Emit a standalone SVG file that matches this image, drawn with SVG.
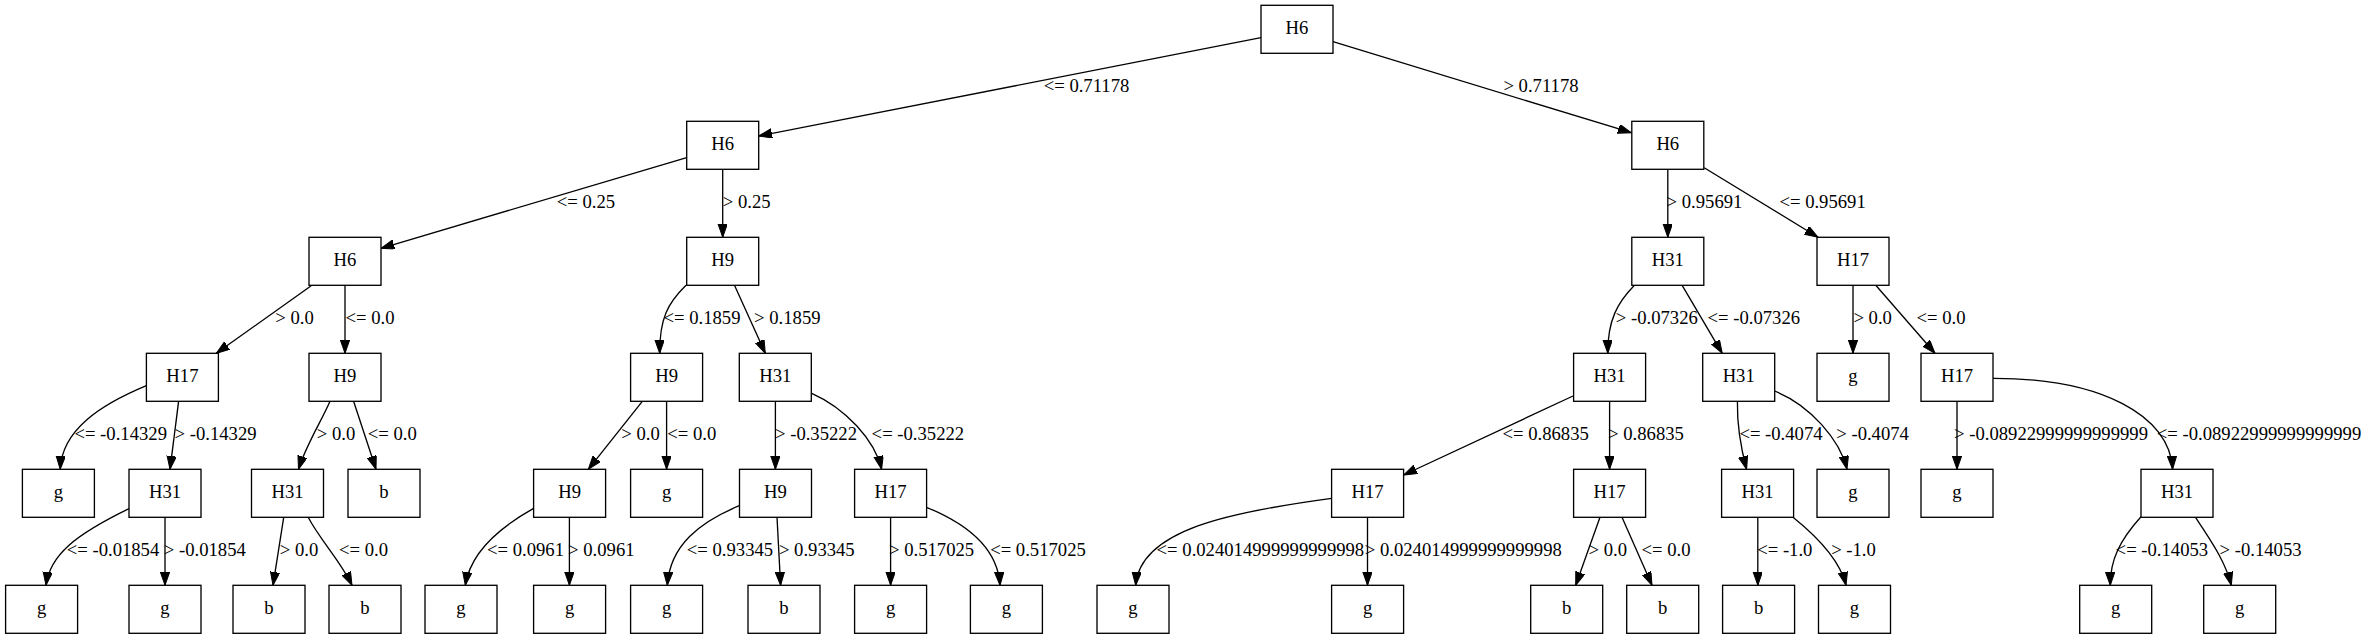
<svg xmlns="http://www.w3.org/2000/svg" width="2368" height="639" viewBox="0 0 2368 639">
<style>
rect{fill:#fff;stroke:#000;stroke-width:1.33}
text{font-family:"Liberation Serif","Times New Roman",serif;font-size:18.67px;fill:#000;text-anchor:middle}
#edges path{fill:none;stroke:#000;stroke-width:1.33;marker-end:url(#ah)}
</style>
<defs>
<marker id="ah" markerUnits="userSpaceOnUse" markerWidth="14" markerHeight="10" refX="13.3" refY="4.67" orient="auto"><path d="M0,0 L13.3,4.67 L0,9.33 Z" fill="#000" stroke="#000" stroke-width="1"/></marker>
</defs>
<rect x="0" y="0" width="2368" height="639" style="stroke:none"/>
<g id="edges">
<path d="M1261,37.7 L758.7,136"/>
<path d="M1333,41.7 L1631.3,132.7"/>
<path d="M686.7,157.7 L381,248.3"/>
<path d="M722.7,169.3 L722.7,237.3"/>
<path d="M1667.8,169.3 L1667.8,237.3"/>
<path d="M1704.2,167.7 L1818,237.3"/>
<path d="M311.2,285.7 L216.3,353.3"/>
<path d="M345,285.3 L345,353.3"/>
<path d="M686,285.3 C668,303 659.5,318 659.7,353.3"/>
<path d="M734.7,285.7 L765.3,353.3"/>
<path d="M1634,285.7 C1618,302 1607.5,320 1607.8,353.3"/>
<path d="M1682.3,285.7 L1722.2,353.3"/>
<path d="M1853,285.3 L1853,353.3"/>
<path d="M1876.2,285.7 L1935,353.3"/>
<path d="M146.4,385.7 C100,405 62,430 60.2,469.3"/>
<path d="M178.6,401.3 L170,469.3"/>
<path d="M330,401.3 C322,420 306,445 298.5,469.3"/>
<path d="M353.6,401.3 L376,469.3"/>
<path d="M642.3,401.3 L588.3,469.3"/>
<path d="M666.6,401.3 L666.6,469.3"/>
<path d="M775.4,401.3 L775.4,469.3"/>
<path d="M811.7,393.3 C845,408 875,440 881.6,469.3"/>
<path d="M1573,396 L1403.6,475"/>
<path d="M1609.6,401.3 L1609.6,469.3"/>
<path d="M1737.4,401.3 C1737,425 1740,445 1746.6,469.3"/>
<path d="M1774.6,391 C1810,405 1840,440 1847,469.3"/>
<path d="M1957,401.3 L1957,469.3"/>
<path d="M1993,378.3 C2100,378 2170,415 2172.6,469.3"/>
<path d="M129,508.7 C75,535 50,555 46,585.3"/>
<path d="M165,517.3 L165,585.3"/>
<path d="M283.7,517.3 L273,585.3"/>
<path d="M308.2,517.3 C320,540 340,560 352,585.3"/>
<path d="M533.2,508.7 C495,530 470,555 465.3,585.3"/>
<path d="M569.4,517.3 L569.4,585.3"/>
<path d="M739.3,505.7 C700,522 670,545 667.3,585.3"/>
<path d="M777,517.3 L780.6,585.3"/>
<path d="M890.6,517.3 L890.6,585.3"/>
<path d="M926.5,507.3 C970,525 998,550 1000,585.3"/>
<path d="M1331.6,498.3 C1230,512 1140,530 1135.7,585.3"/>
<path d="M1367.5,517.3 L1367.5,585.3"/>
<path d="M1600,517.3 L1575.7,585.3"/>
<path d="M1622,517.3 L1652,585.3"/>
<path d="M1757.8,517.3 L1757.8,585.3"/>
<path d="M1793,517.3 C1815,535 1840,560 1846,585.3"/>
<path d="M2141,516.7 C2120,540 2110,560 2110.3,585.3"/>
<path d="M2195.6,517.3 C2210,540 2225,560 2231.3,585.3"/>
<text x="1086.5" y="92.3">&lt;= 0.71178</text>
<text x="1541" y="92.3">&gt; 0.71178</text>
<text x="586" y="208.3">&lt;= 0.25</text>
<text x="746.7" y="208.3">&gt; 0.25</text>
<text x="1704.5" y="208.3">&gt; 0.95691</text>
<text x="1822.6" y="208.3">&lt;= 0.95691</text>
<text x="294.6" y="324.3">&gt; 0.0</text>
<text x="370" y="324.3">&lt;= 0.0</text>
<text x="702" y="324.3">&lt;= 0.1859</text>
<text x="787.3" y="324.3">&gt; 0.1859</text>
<text x="1656.8" y="324.3">&gt; -0.07326</text>
<text x="1753.8" y="324.3">&lt;= -0.07326</text>
<text x="1872.7" y="324.3">&gt; 0.0</text>
<text x="1941" y="324.3">&lt;= 0.0</text>
<text x="120.7" y="440.3">&lt;= -0.14329</text>
<text x="215.6" y="440.3">&gt; -0.14329</text>
<text x="336" y="440.3">&gt; 0.0</text>
<text x="392.3" y="440.3">&lt;= 0.0</text>
<text x="640.6" y="440.3">&gt; 0.0</text>
<text x="691.8" y="440.3">&lt;= 0.0</text>
<text x="816" y="440.3">&gt; -0.35222</text>
<text x="917.9" y="440.3">&lt;= -0.35222</text>
<text x="1545.7" y="440.3">&lt;= 0.86835</text>
<text x="1646" y="440.3">&gt; 0.86835</text>
<text x="1781" y="440.3">&lt;= -0.4074</text>
<text x="1872.6" y="440.3">&gt; -0.4074</text>
<text x="2051" y="440.3">&gt; -0.08922999999999999</text>
<text x="2259" y="440.3">&lt;= -0.08922999999999999</text>
<text x="113" y="556.3">&lt;= -0.01854</text>
<text x="204.8" y="556.3">&gt; -0.01854</text>
<text x="299" y="556.3">&gt; 0.0</text>
<text x="363.5" y="556.3">&lt;= 0.0</text>
<text x="525.5" y="556.3">&lt;= 0.0961</text>
<text x="601.3" y="556.3">&gt; 0.0961</text>
<text x="730" y="556.3">&lt;= 0.93345</text>
<text x="816.8" y="556.3">&gt; 0.93345</text>
<text x="931.6" y="556.3">&gt; 0.517025</text>
<text x="1038" y="556.3">&lt;= 0.517025</text>
<text x="1260.4" y="556.3">&lt;= 0.024014999999999998</text>
<text x="1463.3" y="556.3">&gt; 0.024014999999999998</text>
<text x="1607.8" y="556.3">&gt; 0.0</text>
<text x="1666" y="556.3">&lt;= 0.0</text>
<text x="1784.8" y="556.3">&lt;= -1.0</text>
<text x="1853.5" y="556.3">&gt; -1.0</text>
<text x="2161.9" y="556.3">&lt;= -0.14053</text>
<text x="2260.6" y="556.3">&gt; -0.14053</text>
</g>
<g id="n0"><rect x="1261" y="5.3" width="72" height="48"/><text x="1297" y="34.3">H6</text></g>
<g id="n1"><rect x="686.7" y="121.3" width="72" height="48"/><text x="722.7" y="150.3">H6</text></g>
<g id="n2"><rect x="1631.8" y="121.3" width="72" height="48"/><text x="1667.8" y="150.3">H6</text></g>
<g id="n3"><rect x="309" y="237.3" width="72" height="48"/><text x="345" y="266.3">H6</text></g>
<g id="n4"><rect x="686.7" y="237.3" width="72" height="48"/><text x="722.7" y="266.3">H9</text></g>
<g id="n5"><rect x="1631.8" y="237.3" width="72" height="48"/><text x="1667.8" y="266.3">H31</text></g>
<g id="n6"><rect x="1817" y="237.3" width="72" height="48"/><text x="1853" y="266.3">H17</text></g>
<g id="n7"><rect x="146.4" y="353.3" width="72" height="48"/><text x="182.4" y="382.3">H17</text></g>
<g id="n8"><rect x="309" y="353.3" width="72" height="48"/><text x="345" y="382.3">H9</text></g>
<g id="n9"><rect x="630.6" y="353.3" width="72" height="48"/><text x="666.6" y="382.3">H9</text></g>
<g id="n10"><rect x="739.3" y="353.3" width="72" height="48"/><text x="775.3" y="382.3">H31</text></g>
<g id="n11"><rect x="1573.6" y="353.3" width="72" height="48"/><text x="1609.6" y="382.3">H31</text></g>
<g id="n12"><rect x="1702.7" y="353.3" width="72" height="48"/><text x="1738.7" y="382.3">H31</text></g>
<g id="n13"><rect x="1817" y="353.3" width="72" height="48"/><text x="1853" y="382.3">g</text></g>
<g id="n14"><rect x="1921" y="353.3" width="72" height="48"/><text x="1957" y="382.3">H17</text></g>
<g id="n15"><rect x="22.4" y="469.3" width="72" height="48"/><text x="58.4" y="498.3">g</text></g>
<g id="n16"><rect x="129" y="469.3" width="72" height="48"/><text x="165" y="498.3">H31</text></g>
<g id="n17"><rect x="251.5" y="469.3" width="72" height="48"/><text x="287.5" y="498.3">H31</text></g>
<g id="n18"><rect x="348" y="469.3" width="72" height="48"/><text x="384" y="498.3">b</text></g>
<g id="n19"><rect x="533.6" y="469.3" width="72" height="48"/><text x="569.6" y="498.3">H9</text></g>
<g id="n20"><rect x="630.6" y="469.3" width="72" height="48"/><text x="666.6" y="498.3">g</text></g>
<g id="n21"><rect x="739.5" y="469.3" width="72" height="48"/><text x="775.5" y="498.3">H9</text></g>
<g id="n22"><rect x="854.6" y="469.3" width="72" height="48"/><text x="890.6" y="498.3">H17</text></g>
<g id="n23"><rect x="1331.6" y="469.3" width="72" height="48"/><text x="1367.6" y="498.3">H17</text></g>
<g id="n24"><rect x="1573.6" y="469.3" width="72" height="48"/><text x="1609.6" y="498.3">H17</text></g>
<g id="n25"><rect x="1721.6" y="469.3" width="72" height="48"/><text x="1757.6" y="498.3">H31</text></g>
<g id="n26"><rect x="1817" y="469.3" width="72" height="48"/><text x="1853" y="498.3">g</text></g>
<g id="n27"><rect x="1921" y="469.3" width="72" height="48"/><text x="1957" y="498.3">g</text></g>
<g id="n28"><rect x="2141" y="469.3" width="72" height="48"/><text x="2177" y="498.3">H31</text></g>
<g id="n29"><rect x="5.6" y="585.3" width="72" height="48"/><text x="41.6" y="614.3">g</text></g>
<g id="n30"><rect x="129" y="585.3" width="72" height="48"/><text x="165" y="614.3">g</text></g>
<g id="n31"><rect x="233" y="585.3" width="72" height="48"/><text x="269" y="614.3">b</text></g>
<g id="n32"><rect x="329" y="585.3" width="72" height="48"/><text x="365" y="614.3">b</text></g>
<g id="n33"><rect x="425" y="585.3" width="72" height="48"/><text x="461" y="614.3">g</text></g>
<g id="n34"><rect x="533.6" y="585.3" width="72" height="48"/><text x="569.6" y="614.3">g</text></g>
<g id="n35"><rect x="630.6" y="585.3" width="72" height="48"/><text x="666.6" y="614.3">g</text></g>
<g id="n36"><rect x="748" y="585.3" width="72" height="48"/><text x="784" y="614.3">b</text></g>
<g id="n37"><rect x="854.6" y="585.3" width="72" height="48"/><text x="890.6" y="614.3">g</text></g>
<g id="n38"><rect x="970.4" y="585.3" width="72" height="48"/><text x="1006.4" y="614.3">g</text></g>
<g id="n39"><rect x="1097" y="585.3" width="72" height="48"/><text x="1133" y="614.3">g</text></g>
<g id="n40"><rect x="1331.6" y="585.3" width="72" height="48"/><text x="1367.6" y="614.3">g</text></g>
<g id="n41"><rect x="1530.7" y="585.3" width="72" height="48"/><text x="1566.7" y="614.3">b</text></g>
<g id="n42"><rect x="1626.7" y="585.3" width="72" height="48"/><text x="1662.7" y="614.3">b</text></g>
<g id="n43"><rect x="1722.6" y="585.3" width="72" height="48"/><text x="1758.6" y="614.3">b</text></g>
<g id="n44"><rect x="1818.5" y="585.3" width="72" height="48"/><text x="1854.5" y="614.3">g</text></g>
<g id="n45"><rect x="2079.7" y="585.3" width="72" height="48"/><text x="2115.7" y="614.3">g</text></g>
<g id="n46"><rect x="2203.7" y="585.3" width="72" height="48"/><text x="2239.7" y="614.3">g</text></g>
</svg>
